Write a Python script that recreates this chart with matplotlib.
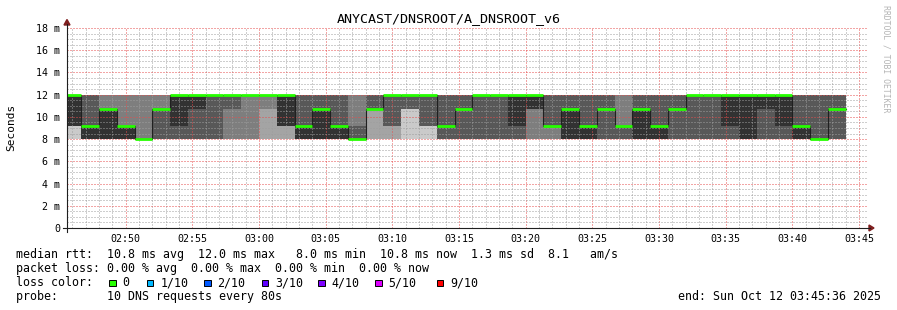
import numpy as np
import matplotlib
matplotlib.use("Agg")
import matplotlib.pyplot as plt
from matplotlib.patches import Polygon, Rectangle
from matplotlib.lines import Line2D

# ---------------- data ----------------
title = "ANYCAST/DNSROOT/A_DNSROOT_v6"
ylabel = "Seconds"
watermark = "RRDTOOL / TOBI OETIKER"

# quantised rtt levels (ms) observed in the smoke
rtt_levels = [8.0, 9.2, 10.75, 12.0]

# number of the 10 pings per 80 s step that fell on each level
n_8 = [1, 5, 5, 5, 7, 4, 4, 4, 4, 3,
       3, 2, 2, 5, 5, 5, 6, 2, 2, 1,
       1, 4, 4, 4, 4, 4, 3, 3, 5, 5,
       4, 4, 5, 5, 4, 4, 4, 4, 5, 4,
       4, 5, 6, 4]
n_9 = [4, 1, 0, 2, 0, 0, 1, 0, 0, 0,
       0, 0, 3, 1, 0, 1, 1, 0, 2, 0,
       3, 2, 0, 0, 0, 1, 0, 3, 0, 1,
       0, 3, 0, 1, 0, 0, 0, 1, 0, 0,
       1, 1, 0, 0]
n_10 = [0, 0, 2, 0, 0, 3, 0, 1, 0, 1,
        0, 1, 0, 0, 1, 0, 0, 4, 0, 3,
        0, 0, 2, 0, 0, 0, 2, 0, 1, 0,
        2, 0, 1, 0, 2, 0, 0, 0, 0, 1,
        0, 0, 0, 2]
n_12 = [5, 4, 3, 3, 3, 3, 5, 5, 6, 6,
        7, 7, 5, 4, 4, 4, 3, 4, 6, 6,
        6, 4, 4, 6, 6, 5, 5, 4, 4, 4,
        4, 3, 4, 4, 4, 6, 6, 5, 5, 5,
        5, 4, 4, 4]

# time (seconds since midnight)
graph_start = 2 * 3600 + 45 * 60 + 36     # 02:45:36
graph_end = 3 * 3600 + 45 * 60 + 36       # 03:45:36
first_step_end = 2 * 3600 + 46 * 60 + 40  # 02:46:40
step_seconds = 80

x_tick_labels = ["02:50", "02:55", "03:00", "03:05", "03:10", "03:15",
                 "03:20", "03:25", "03:30", "03:35", "03:40", "03:45"]
y_ticks = [0, 2, 4, 6, 8, 10, 12, 14, 16, 18]
y_tick_labels = ["0", "2 m", "4 m", "6 m", "8 m", "10 m", "12 m", "14 m", "16 m", "18 m"]

legend_rtt = "median rtt:  10.8 ms avg  12.0 ms max   8.0 ms min  10.8 ms now  1.3 ms sd  8.1   am/s"
legend_loss = "packet loss: 0.00 % avg  0.00 % max  0.00 % min  0.00 % now"
legend_color_title = "loss color:"
loss_labels = ["0", "1/10", "2/10", "3/10", "4/10", "5/10", "9/10"]
loss_colors = ["#26ff00", "#00b8ff", "#0059ff", "#5e00ff", "#7e00ff", "#dd00ff", "#ff0000"]
legend_probe = "probe:       10 DNS requests every 80s"
legend_end = "end: Sun Oct 12 03:45:36 2025"

# ---------------- derived ----------------
counts = np.array([n_8, n_9, n_10, n_12])          # (4, N)
N = counts.shape[1]
pings = np.array([np.repeat(rtt_levels, counts[:, k]) for k in range(N)])  # sorted (N,10)
median = pings[:, 5]
step_ends = first_step_end + step_seconds * np.arange(N)
edges = np.concatenate([[graph_start], step_ends])

# ---------------- layout ----------------
W, H, DPI = 897, 310, 100
L, R, T, B = 67, 867, 28, 228
MONO = "DejaVu Sans Mono"

def fx(x):
    return x / W

def fy(y):
    return 1 - y / H

fig = plt.figure(figsize=(W / DPI, H / DPI), dpi=DPI)
fig.patch.set_facecolor("white")
ax = fig.add_axes([fx(L), fy(B), (R - L) / W, (B - T) / H])
ax.set_facecolor("white")
ax.set_xlim(graph_start, graph_end)
ax.set_ylim(0, 18)
for s in ax.spines.values():
    s.set_visible(False)

# smoke bands
half = 5
for i in range(1, half + 1):
    g = int(190 / half * (half - i)) + 50
    col = "#%02x%02x%02x" % (g, g, g)
    lo = np.append(pings[:, i - 1], pings[-1, i - 1])
    hi = np.append(pings[:, 10 - i], pings[-1, 10 - i])
    ax.fill_between(edges, lo, hi, step="post", color=col, lw=0, zorder=1)

# median: dark step line + green loss-coloured segments
med_ext = np.append(median, median[-1])
ax.step(edges, med_ext, where="post", color="#202020", lw=0.8, zorder=3)
ax.hlines(median, edges[:-1], edges[1:], color=loss_colors[0], lw=2.0, zorder=4)

# grid
def tsec(lbl):
    h, m = lbl.split(":")
    return int(h) * 3600 + int(m) * 60

major_x = [tsec(s) for s in x_tick_labels]
minor_x = np.arange(graph_start - graph_start % 60 + 60, graph_end, 60)
ax.set_xticks(major_x)
ax.set_xticklabels(x_tick_labels, family=MONO, fontsize=7.2)
ax.set_xticks(minor_x, minor=True)
ax.set_yticks(y_ticks)
ax.set_yticklabels(y_tick_labels, family=MONO, fontsize=7.2)
ax.set_yticks(np.arange(0, 18.01, 0.5), minor=True)
ax.tick_params(which="both", length=0)
ax.tick_params(axis="x", pad=4.0)
ax.tick_params(axis="y", pad=5.0)
ax.set_axisbelow(False)
grid_col = (0.62, 0.62, 0.62, 0.55)
mgrid_col = (0.9, 0.3, 0.3, 0.55)
ax.grid(which="minor", color=grid_col, lw=0.72, linestyle=(0, (1, 2)))
ax.grid(which="major", color=mgrid_col, lw=0.72, linestyle=(0, (1, 2)))

# axes lines and arrows
axis_col = (0.12, 0.12, 0.12)
arrow_col = (0.5, 0.12, 0.12)
fig.add_artist(Line2D([fx(63), fx(870)], [fy(B), fy(B)], color=axis_col, lw=0.8,
                      transform=fig.transFigure))
fig.add_artist(Line2D([fx(L), fx(L)], [fy(232), fy(24)], color=axis_col, lw=0.8,
                      transform=fig.transFigure))
fig.add_artist(Polygon([[fx(874), fy(B)], [fx(869), fy(B - 3)], [fx(869), fy(B + 3)]],
                       closed=True, color=arrow_col, transform=fig.transFigure))
fig.add_artist(Polygon([[fx(L), fy(19.5)], [fx(L - 3), fy(25)], [fx(L + 3), fy(25)]],
                       closed=True, color=arrow_col, transform=fig.transFigure))

# titles
fig.text(fx(448.5), fy(19), title, ha="center", va="center", family=MONO, fontsize=9.6)
fig.text(fx(11), fy(127), ylabel, ha="center", va="center", rotation=90,
         family=MONO, fontsize=8)
fig.text(fx(886), fy(59), watermark, ha="center", va="center", rotation=-90,
         family=MONO, fontsize=5.9, color="#b4b4b4")

# legend
LEG = 8.4
fig.text(fx(16), fy(258), legend_rtt, ha="left", va="baseline", family=MONO, fontsize=LEG)
fig.text(fx(16), fy(272), legend_loss, ha="left", va="baseline", family=MONO, fontsize=LEG)
fig.text(fx(16), fy(286), legend_color_title, ha="left", va="baseline", family=MONO, fontsize=LEG)
box_left = [109, 146.7, 204, 261.7, 318.3, 375, 436.7]
for bx, lab, c in zip(box_left, loss_labels, loss_colors):
    fig.add_artist(Rectangle((fx(bx), fy(286.2)), 6.6 / W, 6.6 / H, facecolor=c,
                             edgecolor="black", lw=0.7, transform=fig.transFigure))
    fig.text(fx(bx + 13.5), fy(286), lab, ha="left", va="baseline", family=MONO, fontsize=LEG)
fig.text(fx(16), fy(300), legend_probe, ha="left", va="baseline", family=MONO, fontsize=LEG)
fig.text(fx(881), fy(300), legend_end, ha="right", va="baseline", family=MONO, fontsize=LEG)

fig.savefig("out.png", dpi=DPI, facecolor="white")
